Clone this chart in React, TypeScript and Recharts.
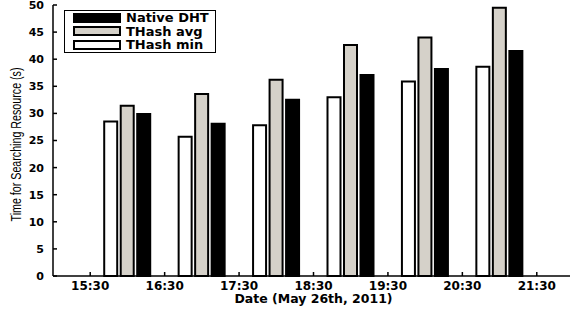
import { BarChart, Bar, XAxis, YAxis, Legend } from "recharts";

// bar group positions (hour of day), one group per hour
const hours = [16, 17, 18, 19, 20, 21];
const thashMin = [28.5, 25.7, 27.8, 33.0, 35.9, 38.6];
const thashAvg = [31.4, 33.6, 36.2, 42.6, 44.0, 49.5];
const nativeDht = [29.9, 28.1, 32.5, 37.1, 38.2, 41.5];

const xTicks = [15.5, 16.5, 17.5, 18.5, 19.5, 20.5, 21.5];
const xTickLabels = ["15:30", "16:30", "17:30", "18:30", "19:30", "20:30", "21:30"];
const yTicks = [0, 5, 10, 15, 20, 25, 30, 35, 40, 45, 50];
const legendOrder = ["Native DHT", "THash avg", "THash min"];

const data = hours.map((h, i) => ({
  hour: h,
  min: thashMin[i],
  avg: thashAvg[i],
  native: nativeDht[i],
}));

const GRAY = "#d5d1c9";
const tickFont = { fontFamily: "DejaVu Sans", fontWeight: "bold", fill: "#000" };

function LegendBox(props: any) {
  const items = [...(props.payload || [])].sort(
    (a: any, b: any) => legendOrder.indexOf(a.value) - legendOrder.indexOf(b.value)
  );
  return (
    <div
      style={{
        boxSizing: "border-box",
        width: 152,
        height: 43,
        border: "1.5px solid #000",
        background: "#fff",
        paddingLeft: 8,
      }}
    >
      {items.map((it: any) => (
        <div key={it.value} style={{ display: "flex", alignItems: "center", height: 13.5 }}>
          <div
            style={{
              boxSizing: "border-box",
              width: 48,
              height: 10,
              border: "2px solid #000",
              background: it.color,
            }}
          />
          <span
            style={{
              marginLeft: 5,
              fontFamily: "DejaVu Sans",
              fontWeight: "bold",
              fontSize: 13,
              lineHeight: 1,
              color: "#000",
            }}
          >
            {it.value}
          </span>
        </div>
      ))}
    </div>
  );
}

// rotated y title, squeezed a little like the original
function YTitle(props: any) {
  const vb = props.viewBox || { x: 0, y: 0, width: 53, height: 271 };
  const cx = vb.x + 15.5;
  const cy = vb.y + vb.height / 2 + 4;
  return (
    <text
      transform={`translate(${cx},${cy}) rotate(-90) scale(1,1.3)`}
      textAnchor="middle"
      dy="0.36em"
      style={{ fontFamily: "Liberation Sans, Arial", fontSize: 10.7, fill: "#000" }}
    >
      Time for Searching Resource (s)
    </text>
  );
}

export default function App() {
  return (
    <div style={{ position: "absolute", left: 0, top: 0, width: 570, height: 311, overflow: "hidden", background: "#fff" }}>
      <BarChart
        width={574}
        height={311}
        data={data}
        margin={{ top: 5, right: 0, bottom: 0, left: 0 }}
        barGap={3.5}
      >
        <XAxis
          dataKey="hour"
          type="number"
          domain={[15, 22]}
          ticks={xTicks}
          tickFormatter={(v: number) => xTickLabels[xTicks.indexOf(v)]}
          height={35}
          stroke="#000"
          strokeWidth={1.5}
          tickSize={-4}
          tickMargin={9}
          tick={{ ...tickFont, fontSize: 12 }}
          interval={0}
          label={{
            value: "Date (May 26th, 2011)",
            position: "insideBottom",
            offset: 8,
            style: { ...tickFont, fontSize: 12.5 },
          }}
        />
        <XAxis
          xAxisId="top"
          orientation="top"
          type="number"
          domain={[15, 22]}
          ticks={xTicks}
          height={0}
          stroke="#000"
          strokeWidth={1}
          tickSize={-4}
          tick={false}
        />
        <YAxis
          domain={[0, 50]}
          ticks={yTicks}
          width={53}
          stroke="#000"
          strokeWidth={1.5}
          tickSize={-4}
          tickMargin={13}
          tick={{ ...tickFont, fontSize: 11 }}
          interval={0}
          label={<YTitle />}
        />
        <YAxis
          yAxisId="right"
          orientation="right"
          domain={[0, 50]}
          ticks={yTicks}
          width={0}
          stroke="#000"
          tickSize={-4}
          tick={false}
        />
        <Legend
          layout="vertical"
          align="center"
          verticalAlign="middle"
          content={LegendBox}
          wrapperStyle={{ left: 64, top: 10, width: 152, height: 43 }}
        />
        <Bar dataKey="min" name="THash min" fill="#fff" stroke="#000" strokeWidth={2} barSize={13} isAnimationActive={false} />
        <Bar dataKey="avg" name="THash avg" fill={GRAY} stroke="#000" strokeWidth={2} barSize={13} isAnimationActive={false} />
        <Bar dataKey="native" name="Native DHT" fill="#000" stroke="#000" strokeWidth={2} barSize={13} isAnimationActive={false} />
      </BarChart>
    </div>
  );
}
